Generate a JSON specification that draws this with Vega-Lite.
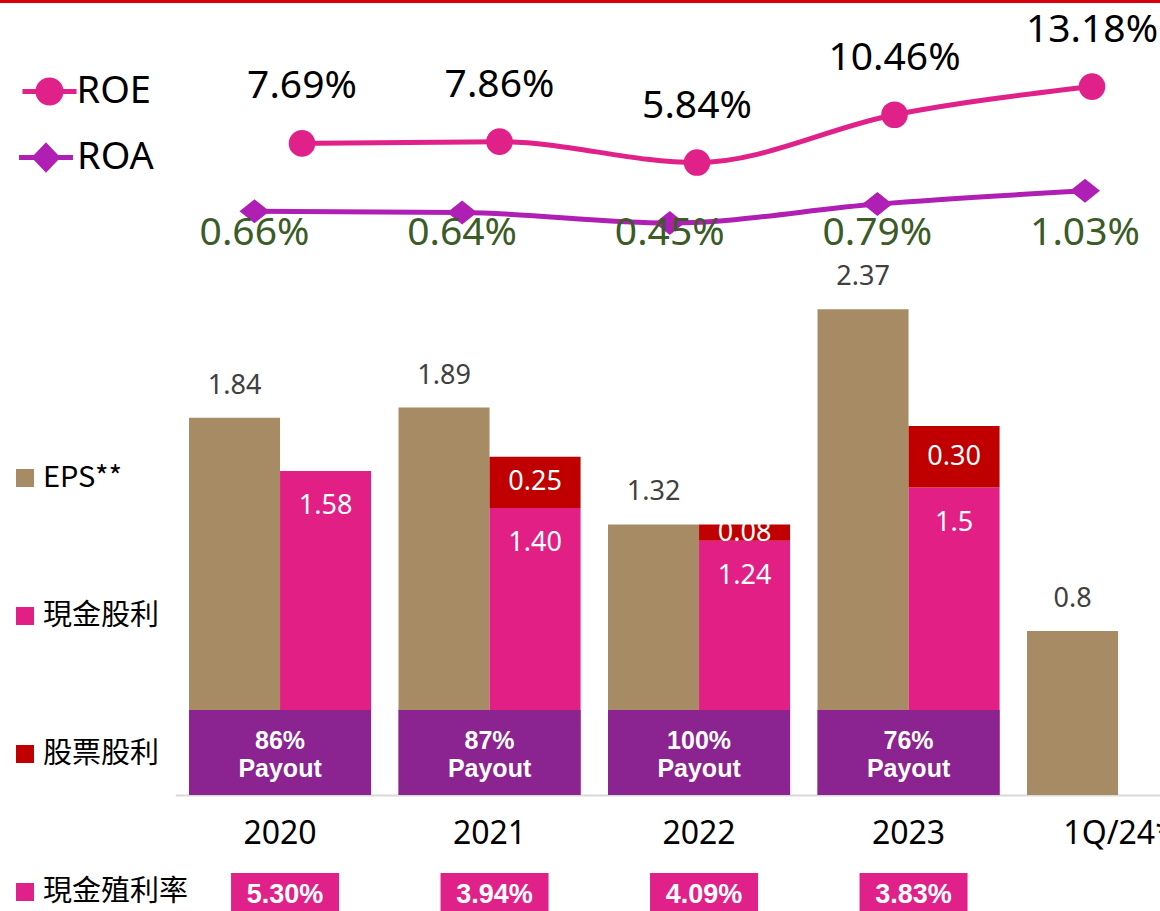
{
"$schema": "https://vega.github.io/schema/vega-lite/v6.json",
"width": 1160, "height": 911, "autosize": "none", "padding": 0, "background": "#ffffff",
"config": {"view": {"stroke": null}, "font": "Noto Sans"},
"datasets": {
 "bars": [
  {"year": "2020", "slot": "eps", "type": "EPS**", "value": 1.84, "label": "1.84"},
  {"year": "2020", "slot": "div", "type": "現金股利", "value": 1.58, "label": "1.58"},
  {"year": "2021", "slot": "eps", "type": "EPS**", "value": 1.89, "label": "1.89"},
  {"year": "2021", "slot": "div", "type": "現金股利", "value": 1.40, "label": "1.40"},
  {"year": "2021", "slot": "div", "type": "股票股利", "value": 0.25, "label": "0.25"},
  {"year": "2022", "slot": "eps", "type": "EPS**", "value": 1.32, "label": "1.32"},
  {"year": "2022", "slot": "div", "type": "現金股利", "value": 1.24, "label": "1.24"},
  {"year": "2022", "slot": "div", "type": "股票股利", "value": 0.08, "label": "0.08"},
  {"year": "2023", "slot": "eps", "type": "EPS**", "value": 2.37, "label": "2.37"},
  {"year": "2023", "slot": "div", "type": "現金股利", "value": 1.5, "label": "1.5"},
  {"year": "2023", "slot": "div", "type": "股票股利", "value": 0.30, "label": "0.30"},
  {"year": "1Q/24*", "slot": "eps", "type": "EPS**", "value": 0.8, "label": "0.8"}
 ],
 "payout": [
  {"year": "2020", "text": "86%\nPayout"},
  {"year": "2021", "text": "87%\nPayout"},
  {"year": "2022", "text": "100%\nPayout"},
  {"year": "2023", "text": "76%\nPayout"}
 ],
 "yield": [
  {"year": "2020", "text": "5.30%"},
  {"year": "2021", "text": "3.94%"},
  {"year": "2022", "text": "4.09%"},
  {"year": "2023", "text": "3.83%"}
 ],
 "roe": [
  {"year": "2020", "value": 7.69, "label": "7.69%"},
  {"year": "2021", "value": 7.86, "label": "7.86%"},
  {"year": "2022", "value": 5.84, "label": "5.84%"},
  {"year": "2023", "value": 10.46, "label": "10.46%"},
  {"year": "1Q/24*", "value": 13.18, "label": "13.18%"}
 ],
 "roa": [
  {"year": "2020", "value": 0.66, "label": "0.66%"},
  {"year": "2021", "value": 0.64, "label": "0.64%"},
  {"year": "2022", "value": 0.45, "label": "0.45%"},
  {"year": "2023", "value": 0.79, "label": "0.79%"},
  {"year": "1Q/24*", "value": 1.03, "label": "1.03%"}
 ]
},
"layer": [
 {
  "layer": [
   {
    "data": {"values": [{}]},
    "mark": {"type": "rule", "color": "#D9000D", "strokeWidth": 3},
    "encoding": {"y": {"datum": 3.8707, "type": "quantitative", "scale": {"domain": [-0.56585, 3.87805], "nice": false, "zero": false}, "axis": null}}
   },
   {
    "data": {"name": "bars"},
    "transform": [{"stack": "value", "groupby": ["year", "slot"], "sort": [{"field": "type", "order": "ascending"}], "as": ["v0", "v1"]}],
    "mark": {"type": "bar"},
    "encoding": {
     "x": {"field": "year", "type": "nominal", "sort": null,
       "scale": {"domain": ["2020", "2021", "2022", "2023", "1Q/24*"], "range": [175.3, 1222.8], "paddingInner": 0.131, "paddingOuter": 0.0655},
       "axis": {"orient": "bottom", "offset": -116, "title": null, "ticks": false, "tickSize": 0, "domainColor": "#D9D9D9", "domainWidth": 2, "labelFontSize": 32, "labelColor": "#000000", "labelPadding": 38, "labelBaseline": "middle", "labelFont": "Noto Sans", "labelOverlap": false, "labelBound": false, "labelAngle": 0}},
     "xOffset": {"field": "slot", "type": "nominal", "scale": {"domain": ["eps", "div"], "paddingInner": 0, "paddingOuter": 0}},
     "y": {"field": "v1", "type": "quantitative", "scale": {"domain": [-0.56585, 3.87805], "nice": false, "zero": false}, "axis": null},
     "y2": {"field": "v0"},
     "color": {"field": "type", "type": "nominal",
       "scale": {"domain": ["EPS**", "現金股利", "股票股利", "現金殖利率"], "range": ["#A68B64", "#E11F85", "#C00000", "#E0218A"]},
       "legend": {"orient": "none", "legendX": 10.5, "legendY": 463.5, "direction": "vertical", "title": null, "symbolType": "square", "symbolSize": 324, "symbolStrokeWidth": 0, "symbolOpacity": 1, "labelFontSize": 29, "labelFont": "Noto Sans CJK TC", "labelColor": "#000000", "labelOffset": 3.5, "rowPadding": 108, "labelLimit": 400}}
    }
   },
   {
    "data": {"name": "payout"},
    "mark": {"type": "bar", "color": "#8B2391"},
    "encoding": {
     "x": {"field": "year", "type": "nominal"},
     "y": {"datum": 0.415, "type": "quantitative"},
     "y2": {"datum": 0}
    }
   },
   {
    "data": {"name": "payout"},
    "mark": {"type": "text", "color": "#ffffff", "font": "Liberation Sans", "fontWeight": "bold", "fontSize": 25, "lineBreak": "\n", "lineHeight": 28, "baseline": "middle"},
    "encoding": {
     "x": {"field": "year", "type": "nominal"},
     "y": {"datum": 0.263, "type": "quantitative"},
     "text": {"field": "text"}
    }
   },
   {
    "data": {"name": "yield"},
    "mark": {"type": "bar", "width": 108, "xOffset": 5},
    "encoding": {
     "x": {"field": "year", "type": "nominal"},
     "y": {"datum": -0.38, "type": "quantitative"},
     "y2": {"datum": -0.6},
     "color": {"datum": "現金殖利率", "type": "nominal"}
    }
   },
   {
    "data": {"name": "yield"},
    "mark": {"type": "text", "color": "#ffffff", "font": "Liberation Sans", "fontWeight": "bold", "fontSize": 27, "baseline": "middle", "xOffset": 5},
    "encoding": {
     "x": {"field": "year", "type": "nominal"},
     "y": {"datum": -0.488, "type": "quantitative"},
     "text": {"field": "text"}
    }
   },
   {
    "data": {"name": "bars"},
    "transform": [{"filter": "datum.slot === 'eps'"}],
    "mark": {"type": "text", "dy": -32, "fontSize": 27, "color": "#404040", "baseline": "middle"},
    "encoding": {
     "x": {"field": "year", "type": "nominal"},
     "xOffset": {"field": "slot", "type": "nominal"},
     "y": {"field": "value", "type": "quantitative"},
     "text": {"field": "label"}
    }
   },
   {
    "data": {"name": "bars"},
    "transform": [{"filter": "datum.type === '現金股利'"}],
    "mark": {"type": "text", "dy": 35, "fontSize": 27, "color": "#ffffff", "baseline": "middle"},
    "encoding": {
     "x": {"field": "year", "type": "nominal"},
     "xOffset": {"field": "slot", "type": "nominal"},
     "y": {"field": "value", "type": "quantitative"},
     "text": {"field": "label"}
    }
   },
   {
    "data": {"name": "bars"},
    "transform": [
     {"filter": "datum.slot === 'div'"},
     {"stack": "value", "groupby": ["year"], "sort": [{"field": "type", "order": "ascending"}], "as": ["v0", "v1"]},
     {"filter": "datum.type === '股票股利'"},
     {"fold": ["v0", "v1"], "as": ["edge", "pos"]},
     {"aggregate": [{"op": "mean", "field": "pos", "as": "mid"}], "groupby": ["year", "slot", "label"]}
    ],
    "mark": {"type": "text", "fontSize": 27, "color": "#ffffff", "baseline": "middle"},
    "encoding": {
     "x": {"field": "year", "type": "nominal"},
     "xOffset": {"field": "slot", "type": "nominal"},
     "y": {"field": "mid", "type": "quantitative"},
     "text": {"field": "label"}
    }
   }
  ]
 },
 {
  "data": {"name": "roe"},
  "layer": [
   {
    "mark": {"type": "line", "color": "#E0218A", "strokeWidth": 5, "interpolate": "monotone"},
    "encoding": {
     "x": {"field": "year", "type": "nominal", "sort": null, "scale": {"type": "point", "domain": ["2020", "2021", "2022", "2023", "1Q/24*"], "range": [302, 1092], "padding": 0}, "axis": null},
     "y": {"field": "value", "type": "quantitative", "scale": {"domain": [-66.47, 21.546], "nice": false, "zero": false}, "axis": null}
    }
   },
   {
    "mark": {"type": "point", "filled": true, "size": 707, "shape": "circle", "opacity": 1, "strokeWidth": 0},
    "encoding": {
     "x": {"field": "year", "type": "nominal"},
     "y": {"field": "value", "type": "quantitative"},
     "fill": {"datum": "ROE", "type": "nominal", "scale": {"domain": ["ROE"], "range": ["#E0218A"]},
       "legend": {"orient": "none", "legendX": 30.5, "legendY": 72.5, "direction": "vertical", "title": null, "symbolType": "M-2.35,0L2.35,0M1,0A1,1,0,1,1,-1,0A1,1,0,1,1,1,0Z", "symbolSize": 529, "symbolStrokeColor": "#E0218A", "symbolStrokeWidth": 5, "symbolFillColor": "#E0218A", "symbolOpacity": 1, "labelFontSize": 38, "labelFont": "Noto Sans", "labelColor": "#000000", "labelOffset": 8}}
    }
   },
   {
    "mark": {"type": "text", "dy": -57, "fontSize": 39, "color": "#000000", "baseline": "middle"},
    "encoding": {
     "x": {"field": "year", "type": "nominal"},
     "y": {"field": "value", "type": "quantitative"},
     "text": {"field": "label"}
    }
   }
  ]
 },
 {
  "data": {"name": "roa"},
  "layer": [
   {
    "mark": {"type": "line", "color": "#B01FB4", "strokeWidth": 5, "interpolate": "monotone"},
    "encoding": {
     "x": {"field": "year", "type": "nominal", "sort": null, "scale": {"type": "point", "domain": ["2020", "2021", "2022", "2023", "1Q/24*"], "range": [254.5, 1085], "padding": 0}, "axis": null},
     "y": {"field": "value", "type": "quantitative", "scale": {"domain": [-11.924, 4.46], "nice": false, "zero": false}, "axis": null}
    }
   },
   {
    "mark": {"type": "point", "filled": true, "size": 900, "shape": "M-1,0L0,-0.8L1,0L0,0.8Z", "opacity": 1, "strokeWidth": 0},
    "encoding": {
     "x": {"field": "year", "type": "nominal"},
     "y": {"field": "value", "type": "quantitative"},
     "fill": {"datum": "ROA", "type": "nominal", "scale": {"domain": ["ROA"], "range": ["#B01FB4"]},
       "legend": {"orient": "none", "legendX": 27, "legendY": 138.5, "direction": "vertical", "title": null, "symbolType": "M-2.45,0L2.45,0M0,-1.05L1,0L0,1.05L-1,0Z", "symbolSize": 484, "symbolStrokeColor": "#B01FB4", "symbolStrokeWidth": 5, "symbolFillColor": "#B01FB4", "symbolOpacity": 1, "labelFontSize": 38, "labelFont": "Noto Sans", "labelColor": "#000000", "labelOffset": 12}}
    }
   },
   {
    "mark": {"type": "text", "fontSize": 39, "color": "#3B5B27", "baseline": "middle"},
    "encoding": {
     "x": {"field": "year", "type": "nominal"},
     "y": {"datum": 0.27, "type": "quantitative"},
     "text": {"field": "label"}
    }
   }
  ]
 }
],
"resolve": {"scale": {"x": "independent", "y": "independent", "fill": "independent"}}
}
